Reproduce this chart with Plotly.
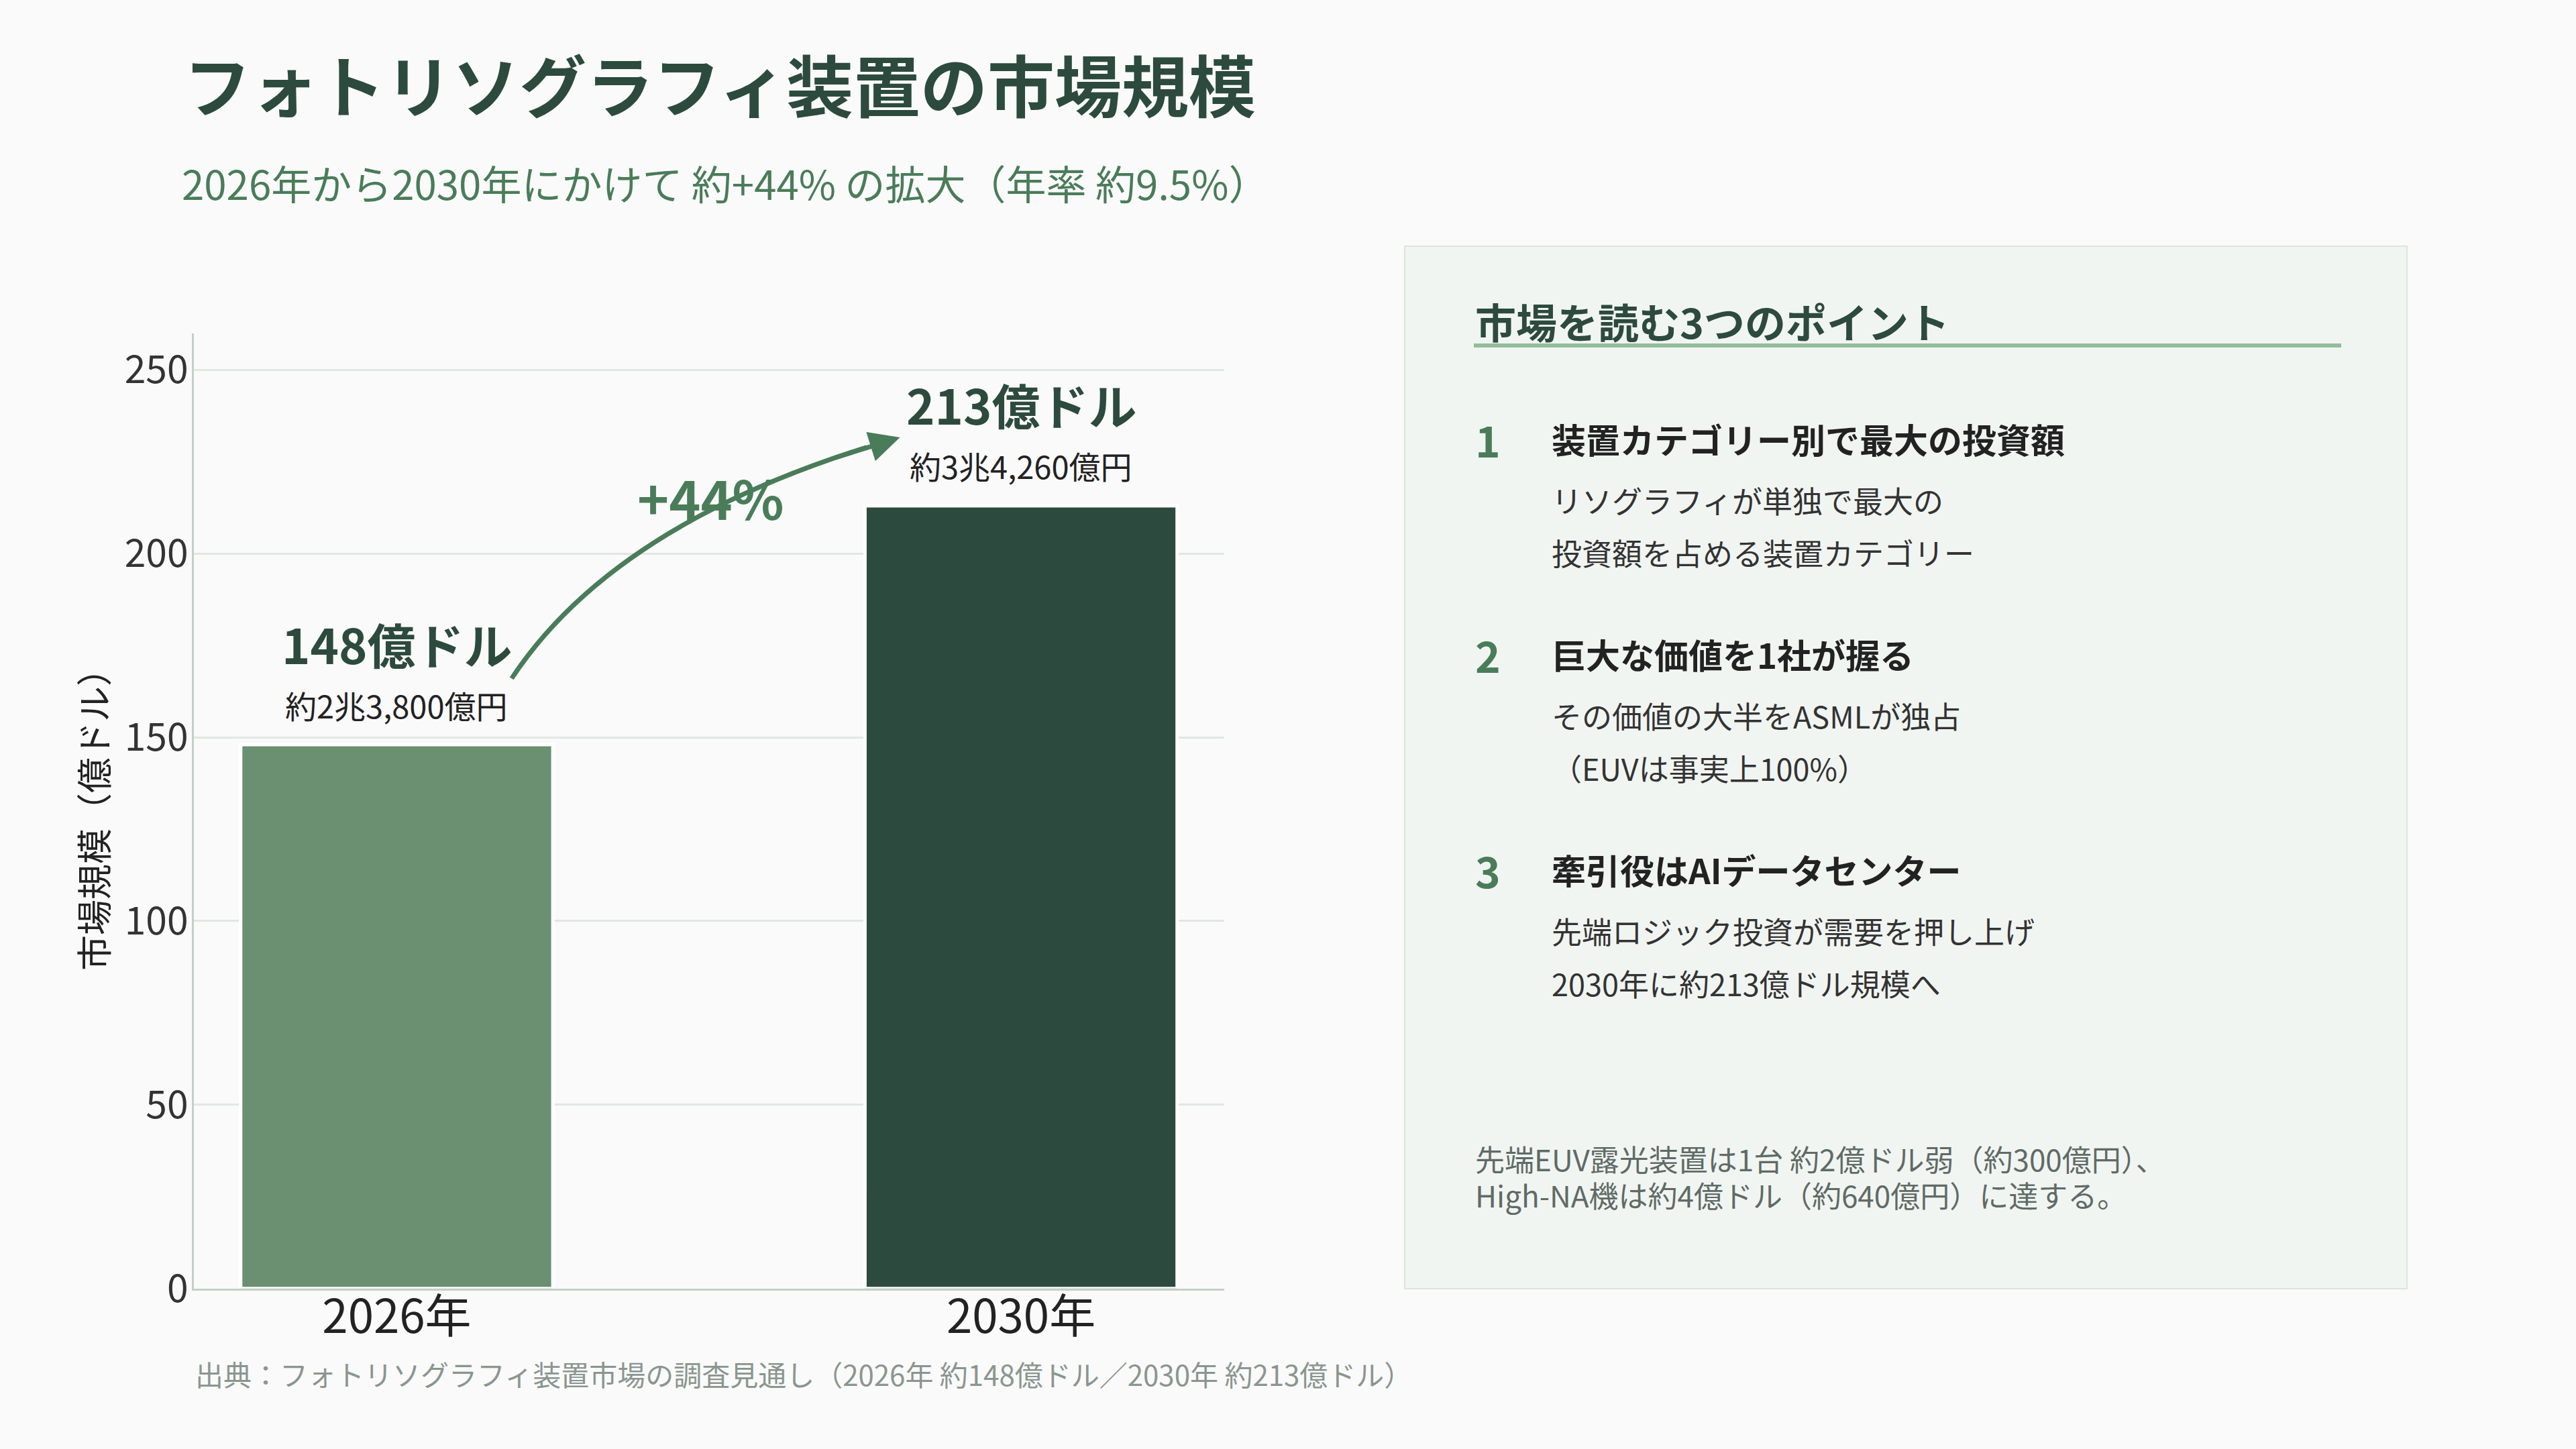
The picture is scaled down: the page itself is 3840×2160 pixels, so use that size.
import plotly.graph_objects as go

# ---------------- data ----------------
years = ["2026年", "2030年"]
values = [148, 213]
value_labels = ["148億ドル", "213億ドル"]
yen_labels = ["約2兆3,800億円", "約3兆4,260億円"]
bar_colors = ["#6b8f71", "#2d4a3e"]
growth_label = "+44%"
y_ticks = [0, 50, 100, 150, 200, 250]

title = "フォトリソグラフィ装置の市場規模"
subtitle = "2026年から2030年にかけて 約+44% の拡大（年率 約9.5%）"
y_title = "市場規模（億ドル）"
source = "出典：フォトリソグラフィ装置市場の調査見通し（2026年 約148億ドル／2030年 約213億ドル）"

panel_title = "市場を読む3つのポイント"
point_numbers = ["1", "2", "3"]
point_heads = ["装置カテゴリー別で最大の投資額", "巨大な価値を1社が握る", "牽引役はAIデータセンター"]
point_bodies = [
    ["リソグラフィが単独で最大の", "投資額を占める装置カテゴリー"],
    ["その価値の大半をASMLが独占", "（EUVは事実上100%）"],
    ["先端ロジック投資が需要を押し上げ", "2030年に約213億ドル規模へ"],
]
notes = ["先端EUV露光装置は1台 約2億ドル弱（約300億円）、", "High-NA機は約4億ドル（約640億円）に達する。"]

# ---------------- layout helpers ----------------
W, H = 3840, 2160
FONT = "Noto Sans CJK JP, Noto Sans, sans-serif"
DARK = "#2d4a3e"
MID = "#4a7c59"


def px(x):
    return x / W


def py(y):
    return 1 - y / H


xs = list(range(len(years)))

fig = go.Figure()
fig.add_trace(go.Bar(
    x=xs, y=values, width=0.5,
    marker=dict(color=bar_colors, line=dict(color="#ffffff", width=5)),
    hoverinfo="skip", showlegend=False,
))

annotations = []
shapes = []

# value labels above bars
for i, v in enumerate(values):
    annotations.append(dict(x=xs[i], y=v, xref="x", yref="y", text=value_labels[i],
                            showarrow=False, yanchor="middle", xanchor="center", yshift=152,
                            font=dict(family=FONT, size=72, color=DARK, weight=700)))
    annotations.append(dict(x=xs[i], y=v, xref="x", yref="y", text=yen_labels[i],
                            showarrow=False, yanchor="middle", xanchor="center", yshift=60,
                            font=dict(family=FONT, size=47, color="#222222")))

# curved growth arrow (quadratic bezier in data space)
p0 = (xs[0] + 0.184, values[0] + 18)
c = (xs[0] + 0.354, values[0] + 61.8)
p2 = (xs[1] - 0.194, values[1] + 18.6)


def bez(t, a, b, d):
    return ((1 - t) ** 2 * a[0] + 2 * t * (1 - t) * b[0] + t * t * d[0],
            (1 - t) ** 2 * a[1] + 2 * t * (1 - t) * b[1] + t * t * d[1])


t1 = 0.94
c_sub = (p0[0] + t1 * (c[0] - p0[0]), p0[1] + t1 * (c[1] - p0[1]))
end_sub = bez(t1, p0, c, p2)
shapes.append(dict(type="path", xref="x", yref="y",
                   path=f"M {p0[0]},{p0[1]} Q {c_sub[0]},{c_sub[1]} {end_sub[0]},{end_sub[1]}",
                   line=dict(color=MID, width=7), layer="above"))
tail = bez(0.88, p0, c, p2)
annotations.append(dict(x=p2[0], y=p2[1], ax=tail[0], ay=tail[1], xref="x", yref="y",
                        axref="x", ayref="y", text="", showarrow=True, arrowhead=2,
                        arrowsize=1.3, arrowwidth=7, arrowcolor=MID))
annotations.append(dict(x=0.503, y=values[1] + 2.5, xref="x", yref="y", text=growth_label,
                        showarrow=False, xanchor="center", yanchor="middle",
                        font=dict(family=FONT, size=80, color=MID, weight=700)))

# title, subtitle, source
annotations.append(dict(x=px(272), y=py(124), xref="paper", yref="paper", text=title,
                        showarrow=False, xanchor="left", yanchor="middle",
                        font=dict(family=FONT, size=100, color=DARK, weight=700)))
annotations.append(dict(x=px(269), y=py(272), xref="paper", yref="paper", text=subtitle,
                        showarrow=False, xanchor="left", yanchor="middle",
                        font=dict(family=FONT, size=60, color=MID)))
annotations.append(dict(x=px(289), y=py(2047), xref="paper", yref="paper", text=source,
                        showarrow=False, xanchor="left", yanchor="middle",
                        font=dict(family=FONT, size=42, color="#8a968f")))

# right panel
shapes.append(dict(type="rect", xref="paper", yref="paper", x0=px(2094), x1=px(3588),
                   y0=py(1921), y1=py(367), fillcolor="#f1f5f2",
                   line=dict(color="#dbe5de", width=2), layer="below"))
shapes.append(dict(type="line", xref="paper", yref="paper", x0=px(2197), x1=px(3490),
                   y0=py(515), y1=py(515), line=dict(color="#93bd9c", width=6)))
annotations.append(dict(x=px(2197), y=py(478), xref="paper", yref="paper", text=panel_title,
                        showarrow=False, xanchor="left", yanchor="middle",
                        font=dict(family=FONT, size=61, color=DARK, weight=700)))

item_y = [654, 975, 1296]
for k in range(3):
    y0 = item_y[k]
    annotations.append(dict(x=px(2218), y=py(y0), xref="paper", yref="paper", text=point_numbers[k],
                            showarrow=False, xanchor="center", yanchor="middle",
                            font=dict(family=FONT, size=64, color=MID, weight=700)))
    annotations.append(dict(x=px(2311), y=py(y0), xref="paper", yref="paper", text=point_heads[k],
                            showarrow=False, xanchor="left", yanchor="middle",
                            font=dict(family=FONT, size=51, color="#222222", weight=700)))
    for j, line in enumerate(point_bodies[k]):
        annotations.append(dict(x=px(2311), y=py(y0 + 91 + 78 * j), xref="paper", yref="paper",
                                text=line, showarrow=False, xanchor="left", yanchor="middle",
                                font=dict(family=FONT, size=45, color="#333333")))

for j, line in enumerate(notes):
    annotations.append(dict(x=px(2197), y=py(1727 + 54 * j), xref="paper", yref="paper", text=line,
                            showarrow=False, xanchor="left", yanchor="middle",
                            font=dict(family=FONT, size=44, color="#5f6b66")))

fig.update_layout(
    width=W, height=H, autosize=False,
    margin=dict(l=0, r=0, t=0, b=0, pad=0),
    paper_bgcolor="#fafafa", plot_bgcolor="#fafafa",
    font=dict(family=FONT, color="#333333"),
    xaxis=dict(domain=[px(289), px(1824.5)], range=[-0.325, 1.325], tickvals=xs, ticktext=years,
               showgrid=False, zeroline=False, showline=True, linecolor="#c5cfc8", linewidth=3,
               ticks="", tickfont=dict(family=FONT, size=69, color="#222222"), ticklabelstandoff=-20,
               automargin=False),
    yaxis=dict(domain=[py(1920.7), py(496.5)], range=[0, 260], tickvals=y_ticks,
               showgrid=True, gridcolor="#e1e7e3", gridwidth=3, zeroline=False,
               showline=True, linecolor="#c5cfc8", linewidth=3, ticks="",
               tickfont=dict(family=FONT, size=57, color="#333333"), ticklabelstandoff=-6,
               automargin=False,
               title=dict(text=y_title, standoff=8, font=dict(family=FONT, size=53, color="#222222"))),
    shapes=shapes, annotations=annotations,
)

fig.write_html("out.html")
